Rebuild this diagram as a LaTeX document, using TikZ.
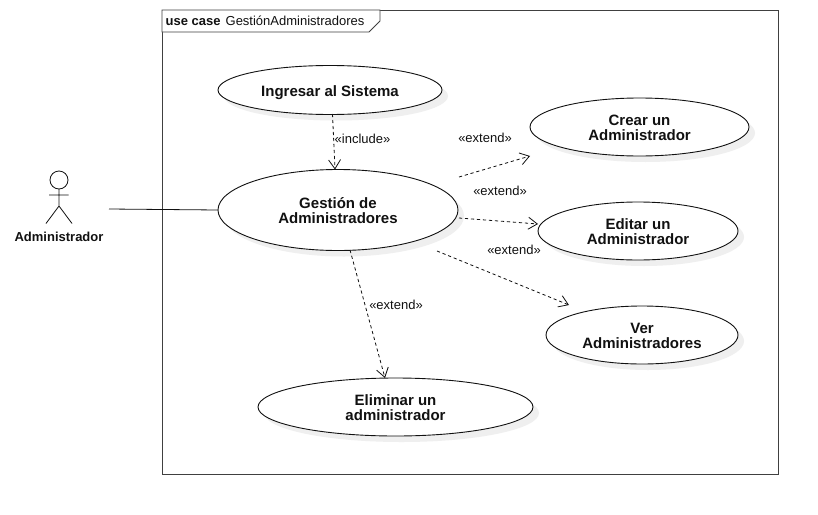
\documentclass[tikz,border=0pt]{standalone}
\usepackage{fontspec}
\setmainfont{Liberation Sans}
\usetikzlibrary{arrows.meta,shadows,shapes.geometric}
\definecolor{inkc}{HTML}{111111}
\definecolor{framec}{HTML}{404040}
\definecolor{shadowc}{HTML}{EFEFEF}
\newcommand\lift[1]{\rule{0pt}{#1pt}}
\tikzset{
  usecase/.style={ellipse,draw=inkc,line width=0.9pt,fill=white,inner sep=0pt,outer sep=0pt,align=center,
    font=\fontsize{15}{15}\selectfont\bfseries,text=inkc,
    drop shadow={shadow xshift=6pt,shadow yshift=-6pt,fill=shadowc,opacity=1}},
  extarrow/.style={draw=inkc,line width=0.8pt,dash pattern=on 3.2pt off 2.8pt,
    -{Straight Barb[length=9pt,width=12pt,line width=0.8pt]}},
  stereo/.style={font=\fontsize{13}{15}\selectfont,text=inkc,inner sep=0pt},
  assoc/.style={draw=inkc,line width=0.8pt},
  framel/.style={draw=framec,line width=0.9pt},
  stick/.style={draw=inkc,line width=0.8pt}
}
\begin{document}
\begin{tikzpicture}[x=1pt,y=-1pt]
\useasboundingbox (0,0) rectangle (818,514);
\fill[white] (0,0) rectangle (818,514);
% frame
\node[framel,outer sep=0pt,minimum width=616pt,minimum height=464pt,inner sep=0pt,anchor=north west] (frame) at (162,10) {};
\draw[framel,fill=white] (162,10) -- (380,10) -- (380,21) -- (369,32) -- (162,32) -- cycle;
\node[font=\fontsize{13}{15}\selectfont,text=inkc,anchor=base west,inner sep=0pt] (title) at (165.5,25) {\textbf{use case}\hspace{5pt}GestiónAdministradores};
% use cases
\node[usecase,minimum width=224pt,minimum height=49pt] (ing) at (330,90) {\lift{16}Ingresar al Sistema};
\node[usecase,minimum width=240pt,minimum height=81pt] (ges) at (338,210) {\lift{11.5}Gestión de\\Administradores};
\node[usecase,minimum width=219pt,minimum height=58pt] (cre) at (639.5,127) {\lift{12.5}Crear un\\Administrador};
\node[usecase,minimum width=200pt,minimum height=58pt] (edi) at (638,231) {\lift{12}Editar un\\Administrador};
\node[usecase,minimum width=192pt,minimum height=58pt] (ver) at (642,335) {\lift{13}Ver\\Administradores};
\node[usecase,minimum width=275pt,minimum height=58pt] (eli) at (395.5,407) {\lift{12}Eliminar un\\administrador};
% actor
\draw[stick] (59,180) circle (9);
\draw[stick] (59,189) -- (59,206) (49,195) -- (68.5,195) (46,223.5) -- (59,206) -- (72,223.5);
\node[font=\fontsize{13}{15}\selectfont\bfseries,text=inkc,inner sep=0pt] (actor) at (59,236.5) {Administrador};
% free ends
\coordinate (actorend) at (109,209);
\coordinate (incfrom) at (332.5,114);
\coordinate (incto) at (335,169.5);
\coordinate (crefrom) at (459,177);
\coordinate (creto) at (530,156);
\coordinate (edifrom) at (459,218);
\coordinate (edito) at (538,224);
\coordinate (verfrom) at (437,251);
\coordinate (verto) at (569,305);
\coordinate (elifrom) at (350,250);
\coordinate (elito) at (385,378);
% connectors
\draw[assoc] (actorend) -- (ges.west);
\draw[extarrow] (incfrom) -- (incto);
\draw[extarrow] (crefrom) -- (creto);
\draw[extarrow] (edifrom) -- (edito);
\draw[extarrow] (verfrom) -- (verto);
\draw[extarrow] (elifrom) -- (elito);
% labels
\node[stereo] (l1) at (362.5,138.5) {«include»};
\node[stereo] (l2) at (485,137.5) {«extend»};
\node[stereo] (l3) at (500,190.5) {«extend»};
\node[stereo] (l4) at (514,249.5) {«extend»};
\node[stereo] (l5) at (396,304.5) {«extend»};
\end{tikzpicture}
\end{document}
